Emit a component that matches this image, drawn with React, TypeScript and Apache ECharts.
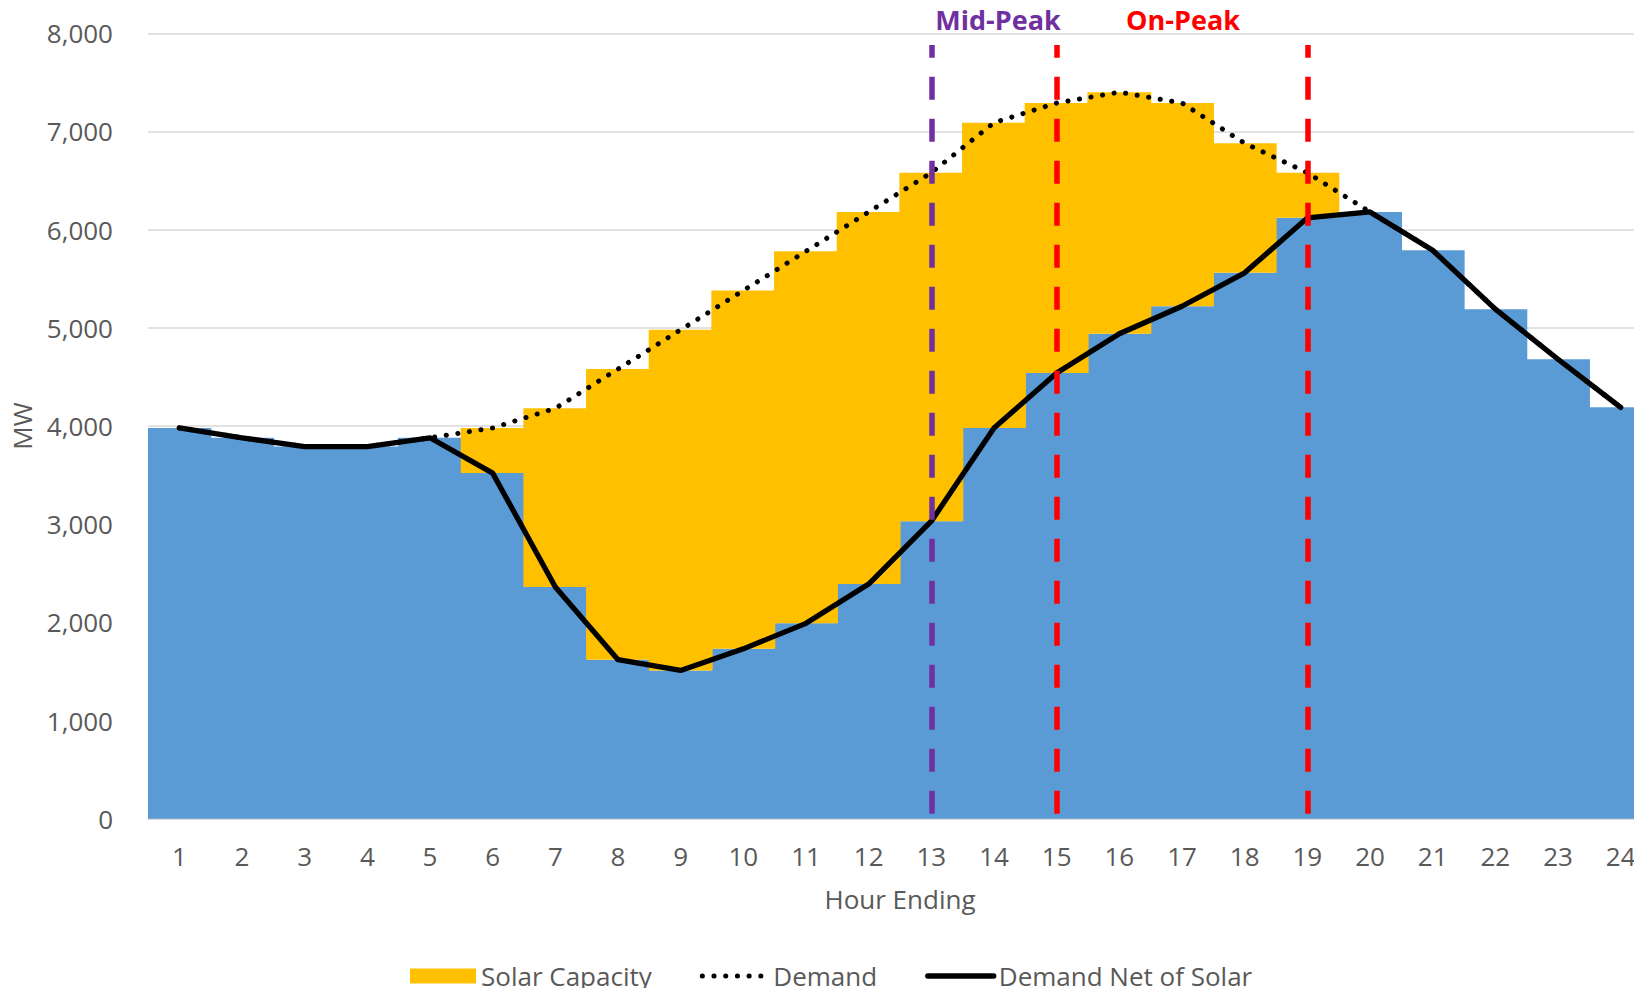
import React, { useEffect, useRef } from 'react';
import * as echarts from 'echarts';

const hours = ['1', '2', '3', '4', '5', '6', '7', '8', '9', '10', '11', '12', '13', '14', '15', '16', '17', '18', '19', '20', '21', '22', '23', '24'];
const netDemand = [3980, 3880, 3790, 3790, 3880, 3520, 2360, 1620, 1510, 1730, 1990, 2390, 3030, 3980, 4540, 4940, 5220, 5560, 6120, 6180, 5790, 5190, 4680, 4190];
const demand = [3980, 3880, 3790, 3790, 3880, 3980, 4180, 4580, 4980, 5380, 5780, 6180, 6580, 7090, 7290, 7400, 7290, 6880, 6580, 6180, 5790, 5190, 4680, 4190];
const solarCapacity = demand.map((d, i) => d - netDemand[i]);

const midPeakStart = '13';
const onPeakStart = '15';
const onPeakEnd = '19';
const markerTop = 7880;

const yMin = 0;
const yMax = 8000;
const yInterval = 1000;

export default function App() {
  const ref = useRef<HTMLDivElement>(null);

  useEffect(() => {
    const chart = echarts.init(ref.current!, null, { renderer: 'svg' });
    const font = '"Open Sans", "Noto Sans", sans-serif';
    const gray = '#595959';
    const dash = (color: string) => ({
      color,
      width: 5.5,
      type: [23, 19],
      dashOffset: 36.6,
    });
    const hiddenSymbol = { color: 'transparent', borderWidth: 0, opacity: 0 };
    const dottedStyle = { color: '#000000', width: 5, type: [0.1, 11.6], cap: 'round' };
    const solidStyle = { color: '#000000', width: 5.3, type: 'solid', cap: 'round', join: 'round' };
    chart.setOption({
      animation: false,
      textStyle: { fontFamily: font },
      grid: { left: 148, top: 33.3, width: 1504, height: 785.4, containLabel: false },
      legend: {
        left: 405,
        top: 958,
        itemWidth: 66,
        itemHeight: 15,
        itemGap: 48,
        selectedMode: false,
        textStyle: { color: gray, fontSize: 26, fontFamily: font },
        data: [
          { name: 'Solar Capacity', icon: 'rect' },
          { name: 'Demand', itemStyle: hiddenSymbol, lineStyle: dottedStyle },
          { name: 'Demand Net of Solar', itemStyle: hiddenSymbol, lineStyle: solidStyle },
        ],
      },
      xAxis: {
        type: 'category',
        data: hours,
        axisTick: { show: false },
        axisLine: { lineStyle: { color: '#D9D9D9', width: 1.5 } },
        axisLabel: { color: gray, fontSize: 26, margin: 24, fontFamily: font },
        name: 'Hour Ending',
        nameLocation: 'middle',
        nameGap: 67,
        nameTextStyle: { color: gray, fontSize: 26, fontFamily: font },
      },
      yAxis: {
        type: 'value',
        min: yMin,
        max: yMax,
        interval: yInterval,
        axisLine: { show: false },
        axisTick: { show: false },
        axisLabel: {
          color: gray,
          fontSize: 26,
          margin: 35,
          fontFamily: font,
          formatter: (v: number) => v.toLocaleString('en-US'),
        },
        splitLine: { lineStyle: { color: '#D9D9D9', width: 1.5 } },
        name: 'MW',
        nameLocation: 'middle',
        nameGap: 113,
        nameTextStyle: { color: gray, fontSize: 26, fontFamily: font },
      },
      series: [
        {
          name: 'Net Demand',
          type: 'bar',
          stack: 'load',
          data: netDemand,
          barWidth: '102%',
          itemStyle: { color: '#5B9BD5' },
          markLine: {
            silent: true,
            symbol: ['none', 'none'],
            label: { show: false },
            z: 10,
            data: [
              [
                { coord: [midPeakStart, 0], lineStyle: dash('#7030A0') },
                { coord: [midPeakStart, markerTop] },
              ],
              [
                { coord: [onPeakStart, 0], lineStyle: dash('#FF0000') },
                { coord: [onPeakStart, markerTop] },
              ],
              [
                { coord: [onPeakEnd, 0], lineStyle: dash('#FF0000') },
                { coord: [onPeakEnd, markerTop] },
              ],
            ],
          },
        },
        {
          name: 'Solar Capacity',
          type: 'bar',
          stack: 'load',
          data: solarCapacity,
          barWidth: '102%',
          itemStyle: { color: '#FFC000' },
        },
        {
          name: 'Demand',
          type: 'line',
          data: demand,
          symbol: 'none',
          z: 3,
          lineStyle: dottedStyle,
          itemStyle: { color: '#000000' },
        },
        {
          name: 'Demand Net of Solar',
          type: 'line',
          data: netDemand,
          symbol: 'none',
          z: 4,
          lineStyle: solidStyle,
          itemStyle: { color: '#000000' },
        },
      ],
    });

    const px = (c: string) => chart.convertToPixel({ xAxisIndex: 0 }, c) as number;
    const xMid = (px(midPeakStart) + px(onPeakStart)) / 2 + 4;
    const xOn = (px(onPeakStart) + px(onPeakEnd)) / 2 + 1;
    chart.setOption({
      graphic: [
        {
          type: 'text',
          x: xMid,
          y: 19.5,
          style: {
            text: 'Mid-Peak',
            fill: '#7030A0',
            font: `bold 27px ${font}`,
            textAlign: 'center',
            textVerticalAlign: 'middle',
          },
        },
        {
          type: 'text',
          x: xOn,
          y: 19.5,
          style: {
            text: 'On-Peak',
            fill: '#FF0000',
            font: `bold 27px ${font}`,
            textAlign: 'center',
            textVerticalAlign: 'middle',
          },
        },
      ],
    });

    return () => chart.dispose();
  }, []);

  return (
    <div style={{ position: 'fixed', left: 0, top: 0, width: 1634, height: 988, overflow: 'hidden', background: '#fff' }}>
      <div ref={ref} style={{ width: 1700, height: 1010 }} />
    </div>
  );
}
